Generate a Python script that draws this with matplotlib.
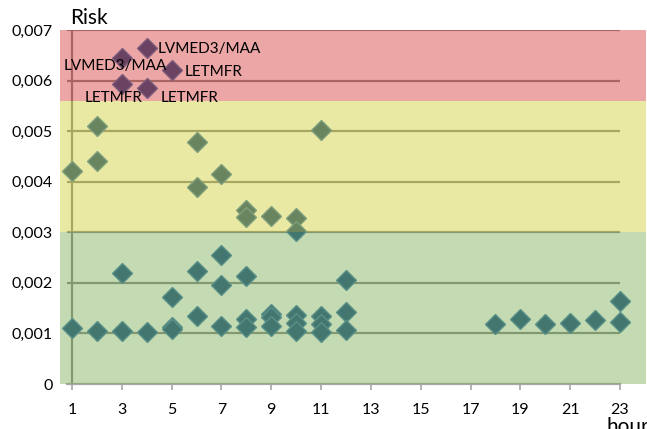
import matplotlib.pyplot as plt
import numpy as np

plt.rcParams['font.family'] = ['Lato', 'DejaVu Sans']

# unlabelled points, risk in units of 0.001
hours = [1, 1, 2, 2, 2, 3, 3, 4, 5, 5, 5, 6, 6, 6, 6, 7, 7, 7, 7,
         8, 8, 8, 8, 8, 9, 9, 9, 9, 10, 10, 10, 10, 10, 11, 11, 11, 11,
         12, 12, 12, 18, 19, 20, 21, 22, 23, 23]
risk = [4.21, 1.11, 5.10, 4.40, 1.05, 2.20, 1.04, 1.02, 1.73, 1.13, 1.08,
        4.78, 3.90, 2.24, 1.35, 4.16, 2.56, 1.95, 1.15,
        3.45, 3.31, 2.13, 1.28, 1.13, 3.32, 1.38, 1.32, 1.14,
        3.28, 3.02, 1.36, 1.20, 1.04, 5.02, 1.35, 1.19, 1.02,
        2.06, 1.43, 1.07, 1.19, 1.28, 1.19, 1.21, 1.27, 1.65, 1.23]

# labelled high-risk points
lab_hours = [3, 3, 4, 4, 5]
lab_risk = [6.44, 5.93, 6.65, 5.86, 6.21]
lab_names = ['LVMED3/MAA', 'LETMFR', 'LVMED3/MAA', 'LETMFR', 'LETMFR']
lab_offsets = [(-7, -8), (-8, -14), (11, -1), (14, -10), (13, -2)]
lab_ha = ['center', 'center', 'left', 'left', 'left']

zone_edges = [0, 0.003, 0.0056, 0.007]
zone_colors = ['#7EAF56', '#D2D037', '#D53B3B']

yticks = np.arange(0, 0.0071, 0.001)
ytick_labels = ['0'] + ['0,00%d' % i for i in range(1, 8)]
xticks = list(range(1, 24, 2))

fig = plt.figure(figsize=(6.47, 4.29), dpi=100)
ax = fig.add_axes([60 / 647, 45 / 429, 586 / 647, 354 / 429])
ax.set_xlim(0.518, 24.044)
ax.set_ylim(0, 0.007)

# grid and axis line sit under the tinted bands
ax.hlines(yticks[1:], 0.78, 23, color='#868686', lw=1.6, zorder=1)
ax.vlines(1, 0, 0.007, color='#868686', lw=1.6, zorder=1)

mk = dict(marker='D', ms=10.5, color='#134983', mec='#3A78B0', mew=1,
          ls='none', zorder=2)
ax.plot(hours, np.array(risk) * 1e-3, **mk)
ax.plot(lab_hours, np.array(lab_risk) * 1e-3, **mk)

for i in range(3):
    ax.axhspan(zone_edges[i], zone_edges[i + 1], color=zone_colors[i],
               alpha=0.45, lw=0, zorder=3)

for x, y, name, off, ha in zip(lab_hours, lab_risk, lab_names, lab_offsets, lab_ha):
    ax.annotate(name, (x, y * 1e-3), xytext=off, textcoords='offset pixels',
                ha=ha, va='center', fontsize=11, zorder=5)

for s in ['top', 'right', 'left']:
    ax.spines[s].set_visible(False)
ax.spines['bottom'].set_bounds(0.78, 23)
ax.spines['bottom'].set_color('#A6A6A6')
ax.spines['bottom'].set_linewidth(1.6)

ax.set_xticks(xticks)
ax.set_yticks(yticks)
ax.set_yticklabels(ytick_labels)
ax.tick_params(axis='x', length=4, width=1.2, color='#A6A6A6', pad=10, labelsize=11.5)
ax.tick_params(axis='y', length=0, pad=5, labelsize=11.5)

fig.text(70 / 647, 1 - 18 / 429, 'Risk', fontsize=15, va='center')
# axis title sits partly outside the canvas, as in the original
fig.text(607 / 647, 1 - 417 / 429, 'hours', fontsize=15, va='top')

fig.savefig('out.png', dpi=100)
